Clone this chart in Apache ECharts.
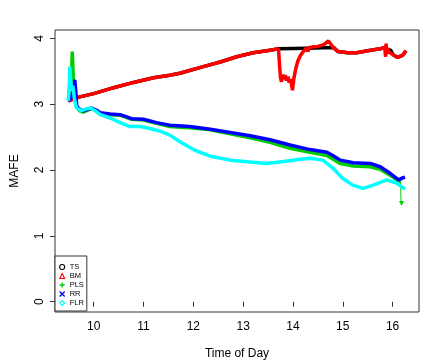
<!DOCTYPE html>
<html>
<head>
<meta charset="utf-8">
<script src="https://cdn.jsdelivr.net/npm/echarts@6/dist/echarts.min.js"></script>
<style>
html,body{margin:0;padding:0;background:#fff;}
#chart{width:436px;height:363px;}
</style>
</head>
<body>
<div id="chart"></div>
<script>
// ---- data ----
const seriesNames = ['TS', 'BM', 'PLS', 'RR', 'FLR'];
const xTicks = [10, 11, 12, 13, 14, 15, 16];
const yTicks = [0, 1, 2, 3, 4];

const tsTime = [9.49, 9.6, 9.72, 10.0, 10.4, 10.8, 11.2, 11.53, 11.73, 12.2, 12.54, 12.87, 13.2, 13.54, 13.71, 14.0, 14.3, 14.6, 14.82, 14.85, 14.9, 15.1, 15.28, 15.5, 15.75, 15.84, 15.9, 15.96, 16.01, 16.1, 16.2, 16.27];
const tsVal  = [3.05, 3.08, 3.11, 3.16, 3.25, 3.33, 3.40, 3.44, 3.47, 3.57, 3.64, 3.72, 3.78, 3.82, 3.84, 3.845, 3.85, 3.855, 3.86, 3.83, 3.80, 3.78, 3.78, 3.81, 3.84, 3.86, 3.83, 3.82, 3.75, 3.71, 3.74, 3.81];

const bmTime = [9.49, 9.6, 9.72, 10.0, 10.4, 10.8, 11.2, 11.53, 11.73, 12.2, 12.54, 12.87, 13.2, 13.54, 13.71, 13.73, 13.75, 13.77, 13.8, 13.82, 13.84, 13.87, 13.9, 13.92, 13.95, 13.97, 13.99, 14.02, 14.06, 14.1, 14.15, 14.2, 14.24, 14.28, 14.3, 14.33, 14.36, 14.4, 14.42, 14.45, 14.48, 14.52, 14.55, 14.6, 14.65, 14.71, 14.75, 14.8, 14.85, 14.9, 15.1, 15.28, 15.5, 15.75, 15.84, 15.86, 15.87, 15.88, 15.9, 15.93, 15.96, 16.01, 16.1, 16.2, 16.27];
const bmVal  = [3.05, 3.08, 3.11, 3.16, 3.25, 3.33, 3.40, 3.44, 3.47, 3.57, 3.64, 3.72, 3.78, 3.82, 3.84, 3.60, 3.40, 3.34, 3.45, 3.38, 3.44, 3.36, 3.42, 3.33, 3.38, 3.30, 3.21, 3.40, 3.55, 3.66, 3.74, 3.79, 3.82, 3.86, 3.80, 3.86, 3.83, 3.87, 3.84, 3.87, 3.85, 3.88, 3.86, 3.90, 3.92, 3.96, 3.92, 3.87, 3.83, 3.80, 3.78, 3.78, 3.81, 3.84, 3.86, 3.72, 3.92, 3.76, 3.85, 3.79, 3.82, 3.75, 3.71, 3.74, 3.81];

const plsTime = [9.49, 9.53, 9.56, 9.57, 9.59, 9.62, 9.66, 9.72, 9.79, 9.88, 9.96, 10.05, 10.13, 10.33, 10.53, 10.65, 10.76, 11.0, 11.26, 11.53, 11.73, 11.93, 12.34, 12.74, 13.14, 13.54, 13.94, 14.34, 14.68, 14.95, 15.21, 15.55, 15.75, 15.95, 16.1, 16.16];
const plsVal  = [3.05, 3.15, 3.55, 3.80, 3.40, 3.10, 2.95, 2.90, 2.88, 2.91, 2.93, 2.90, 2.86, 2.84, 2.83, 2.80, 2.77, 2.76, 2.71, 2.66, 2.65, 2.64, 2.61, 2.55, 2.49, 2.42, 2.33, 2.27, 2.22, 2.10, 2.06, 2.05, 2.01, 1.92, 1.85, 1.82];
const plsTailTime = [16.16, 16.17, 16.18];
const plsTailVal  = [1.82, 1.50, 1.49];

const rrTime = [9.49, 9.55, 9.6, 9.62, 9.64, 9.66, 9.72, 9.79, 9.88, 9.96, 10.05, 10.13, 10.33, 10.53, 10.65, 10.76, 11.0, 11.26, 11.53, 11.93, 12.34, 12.74, 13.14, 13.54, 13.94, 14.34, 14.68, 14.8, 14.95, 15.21, 15.55, 15.75, 15.95, 16.12, 16.2, 16.25];
const rrVal  = [3.05, 3.10, 3.25, 3.37, 3.20, 2.97, 2.92, 2.90, 2.92, 2.94, 2.91, 2.87, 2.85, 2.84, 2.81, 2.78, 2.77, 2.72, 2.68, 2.66, 2.62, 2.57, 2.52, 2.46, 2.38, 2.31, 2.27, 2.22, 2.15, 2.11, 2.10, 2.05, 1.95, 1.85, 1.88, 1.89];

const flrTime = [9.49, 9.51, 9.52, 9.54, 9.56, 9.58, 9.61, 9.64, 9.66, 9.75, 9.85, 9.95, 10.05, 10.13, 10.33, 10.53, 10.73, 10.93, 11.13, 11.33, 11.53, 11.73, 12.03, 12.34, 12.74, 13.14, 13.47, 13.81, 14.11, 14.34, 14.6, 14.8, 15.0, 15.2, 15.41, 15.61, 15.88, 16.08, 16.25];
const flrVal  = [3.05, 3.30, 3.57, 3.35, 3.20, 3.28, 3.10, 2.98, 2.94, 2.90, 2.93, 2.94, 2.89, 2.84, 2.79, 2.72, 2.66, 2.66, 2.63, 2.59, 2.53, 2.43, 2.30, 2.21, 2.15, 2.12, 2.10, 2.13, 2.16, 2.18, 2.15, 2.03, 1.87, 1.77, 1.72, 1.77, 1.85, 1.80, 1.71];

// ---- chart ----
const pairs = (t, v) => t.map((x, i) => [x, v[i]]);
const FONT = 'Liberation Sans, Arial, Helvetica, sans-serif';
const colors = {TS: '#000000', BM: '#ff0000', PLS: '#00cd00', RR: '#0000ff', FLR: '#00ffff'};

function lineSeries(name, t, v, w) {
  return {
    name: name, type: 'line', data: pairs(t, v),
    showSymbol: false, symbol: 'none',
    lineStyle: {color: colors[name], width: w},
    itemStyle: {color: colors[name]},
    emphasis: {disabled: true},
    z: 2
  };
}

const chart = echarts.init(document.getElementById('chart'), null, {renderer: 'canvas'});
chart.setOption({
  animation: false,
  backgroundColor: '#ffffff',
  textStyle: {fontFamily: FONT},
  grid: {left: 55, right: 17, top: 30, bottom: 51, show: true, borderColor: '#333', borderWidth: 1,
         backgroundColor: 'transparent', containLabel: false, outerBoundsMode: 'none'},
  xAxis: {
    type: 'value', min: 9.223, max: 16.53,
    name: 'Time of Day', nameLocation: 'middle', nameGap: 36,
    nameTextStyle: {fontSize: 12, color: '#000', fontFamily: FONT},
    axisLine: {show: false},
    axisTick: {show: true, length: 5, customValues: xTicks, lineStyle: {color: '#333'}},
    axisLabel: {customValues: xTicks, fontSize: 12, color: '#000', margin: 9, fontFamily: FONT},
    splitLine: {show: false}
  },
  yAxis: {
    type: 'value', min: -0.156, max: 4.126,
    name: 'MAFE', nameLocation: 'middle', nameGap: 34,
    nameTextStyle: {fontSize: 12, color: '#000', fontFamily: FONT},
    axisLine: {show: false},
    axisTick: {show: true, length: 5, customValues: yTicks, lineStyle: {color: '#333'}},
    axisLabel: {customValues: yTicks, fontSize: 12, color: '#000', margin: 9, rotate: 90, fontFamily: FONT},
    splitLine: {show: false}
  },
  legend: {
    orient: 'vertical', left: 55, top: 256,
    padding: [7, 3, 4, 4],
    itemWidth: 5, itemHeight: 5, itemGap: 1,
    borderColor: '#333', borderWidth: 1, backgroundColor: '#fff',
    textStyle: {fontSize: 7.5, color: '#000', fontFamily: FONT},
    selectedMode: false,
    data: [
      {name: 'TS', icon: 'circle', itemStyle: {color: 'transparent', borderColor: colors.TS, borderWidth: 1.1}},
      {name: 'BM', icon: 'triangle', itemStyle: {color: 'transparent', borderColor: colors.BM, borderWidth: 1.1}},
      {name: 'PLS', icon: 'path://M5,0L5,10M0,5L10,5', itemStyle: {color: 'transparent', borderColor: colors.PLS, borderWidth: 1.3}},
      {name: 'RR', icon: 'path://M0,0L10,10M10,0L0,10', itemStyle: {color: 'transparent', borderColor: colors.RR, borderWidth: 1.3}},
      {name: 'FLR', icon: 'diamond', itemStyle: {color: 'transparent', borderColor: colors.FLR, borderWidth: 1.1}}
    ]
  },
  series: [
    lineSeries('TS', tsTime, tsVal, 3.5),
    lineSeries('BM', bmTime, bmVal, 3.5),
    lineSeries('PLS', plsTime, plsVal, 3.5),
    Object.assign(lineSeries('PLS', plsTailTime, plsTailVal, 1), {
      showSymbol: true, symbol: 'triangle', symbolSize: 5, symbolRotate: 180,
      data: pairs(plsTailTime, plsTailVal).map((p, i, a) => i === a.length - 1 ? {value: p, symbol: 'triangle'} : {value: p, symbol: 'none'})
    }),
    lineSeries('RR', rrTime, rrVal, 3.5),
    lineSeries('FLR', flrTime, flrVal, 3.5)
  ]
});
</script>
</body>
</html>
